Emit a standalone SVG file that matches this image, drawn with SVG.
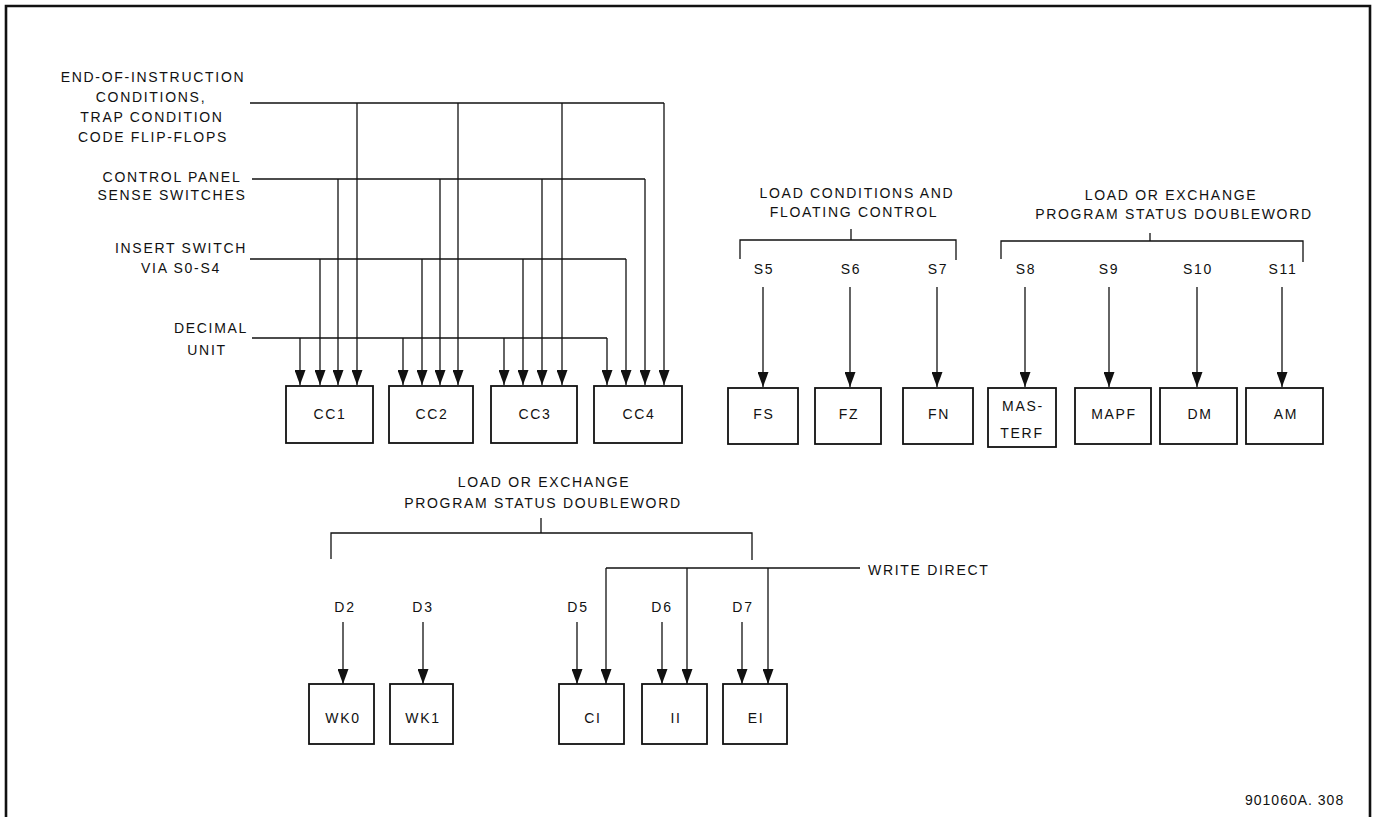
<svg xmlns="http://www.w3.org/2000/svg" width="1377" height="817" viewBox="0 0 1377 817">
<style>
.t{font-family:"Liberation Sans",Arial,sans-serif;font-size:14px;letter-spacing:1.7px;fill:#111;text-anchor:middle}
.ln{fill:none;stroke:#111;stroke-width:1.3}
.bx{fill:#fff;stroke:#111;stroke-width:1.8}
.fr{fill:none;stroke:#111;stroke-width:2.6}
</style>
<defs>
<marker id="ah" markerUnits="userSpaceOnUse" markerWidth="15" markerHeight="11" refX="15" refY="5.5" orient="auto" viewBox="0 0 15 11">
<path d="M0,0 L15,5.5 L0,11 z" fill="#111"/>
</marker>
</defs>
<rect width="1377" height="817" fill="#fff"/>
<path class="fr" d="M6,817 V6 H1370 V817"/>

<g id="labels">
<text class="t" x="153" y="82">END-OF-INSTRUCTION</text>
<text class="t" x="151" y="102">CONDITIONS,</text>
<text class="t" x="152" y="122">TRAP CONDITION</text>
<text class="t" x="153" y="142">CODE FLIP-FLOPS</text>
<text class="t" x="172" y="182">CONTROL PANEL</text>
<text class="t" x="172" y="200">SENSE SWITCHES</text>
<text class="t" x="181" y="253">INSERT SWITCH</text>
<text class="t" x="181" y="273">VIA S0-S4</text>
<text class="t" x="211" y="333">DECIMAL</text>
<text class="t" x="207" y="355">UNIT</text>
<text class="t" x="857" y="198">LOAD CONDITIONS AND</text>
<text class="t" x="854" y="217">FLOATING CONTROL</text>
<text class="t" x="1171" y="200">LOAD OR EXCHANGE</text>
<text class="t" x="1174" y="219">PROGRAM STATUS DOUBLEWORD</text>
<text class="t" x="764" y="274">S5</text>
<text class="t" x="851" y="274">S6</text>
<text class="t" x="938" y="274">S7</text>
<text class="t" x="1026" y="274">S8</text>
<text class="t" x="1109" y="274">S9</text>
<text class="t" x="1198" y="274">S10</text>
<text class="t" x="1283" y="274">S11</text>
<text class="t" x="544" y="487">LOAD OR EXCHANGE</text>
<text class="t" x="543" y="508">PROGRAM STATUS DOUBLEWORD</text>
<text class="t" x="345" y="612">D2</text>
<text class="t" x="423" y="612">D3</text>
<text class="t" x="578" y="612">D5</text>
<text class="t" x="662" y="612">D6</text>
<text class="t" x="743" y="612">D7</text>
<text class="t" x="868" y="575" style="text-anchor:start">WRITE DIRECT</text>
<text class="t" x="1245" y="805" style="text-anchor:start;letter-spacing:1px">901060A. 308</text>
</g>

<g id="connectors">
<path class="ln" d="M250,103 H664"/>
<path class="ln" d="M357,103 V385" marker-end="url(#ah)"/>
<path class="ln" d="M458,103 V385" marker-end="url(#ah)"/>
<path class="ln" d="M562,103 V385" marker-end="url(#ah)"/>
<path class="ln" d="M664,103 V385" marker-end="url(#ah)"/>
<path class="ln" d="M252,179 H645"/>
<path class="ln" d="M338,179 V385" marker-end="url(#ah)"/>
<path class="ln" d="M440,179 V385" marker-end="url(#ah)"/>
<path class="ln" d="M542,179 V385" marker-end="url(#ah)"/>
<path class="ln" d="M645,179 V385" marker-end="url(#ah)"/>
<path class="ln" d="M250,259 H626"/>
<path class="ln" d="M320,259 V385" marker-end="url(#ah)"/>
<path class="ln" d="M422,259 V385" marker-end="url(#ah)"/>
<path class="ln" d="M523,259 V385" marker-end="url(#ah)"/>
<path class="ln" d="M626,259 V385" marker-end="url(#ah)"/>
<path class="ln" d="M252,338 H607"/>
<path class="ln" d="M300,338 V385" marker-end="url(#ah)"/>
<path class="ln" d="M403,338 V385" marker-end="url(#ah)"/>
<path class="ln" d="M504,338 V385" marker-end="url(#ah)"/>
<path class="ln" d="M607,338 V385" marker-end="url(#ah)"/>
<path class="ln" d="M740,259 V240 H956 V260 M851,229 V240"/>
<path class="ln" d="M1001,259 V241 H1303 V262 M1150,233 V241"/>
<path class="ln" d="M331,559 V533 H752 V560 M541,518 V533"/>
<path class="ln" d="M763,287 V387" marker-end="url(#ah)"/>
<path class="ln" d="M850,287 V387" marker-end="url(#ah)"/>
<path class="ln" d="M937,287 V387" marker-end="url(#ah)"/>
<path class="ln" d="M1025,287 V387" marker-end="url(#ah)"/>
<path class="ln" d="M1109,287 V387" marker-end="url(#ah)"/>
<path class="ln" d="M1197,287 V387" marker-end="url(#ah)"/>
<path class="ln" d="M1282,287 V387" marker-end="url(#ah)"/>
<path class="ln" d="M343,622 V684" marker-end="url(#ah)"/>
<path class="ln" d="M423,622 V684" marker-end="url(#ah)"/>
<path class="ln" d="M577,622 V684" marker-end="url(#ah)"/>
<path class="ln" d="M662,622 V684" marker-end="url(#ah)"/>
<path class="ln" d="M742,622 V684" marker-end="url(#ah)"/>
<path class="ln" d="M606,568 H860"/>
<path class="ln" d="M606,568 V684" marker-end="url(#ah)"/>
<path class="ln" d="M687,568 V684" marker-end="url(#ah)"/>
<path class="ln" d="M768,568 V684" marker-end="url(#ah)"/>
</g>

<g id="CC1"><rect class="bx" x="286" y="386" width="87" height="57"/><text class="t" x="330" y="419">CC1</text></g>
<g id="CC2"><rect class="bx" x="389" y="386" width="84" height="57"/><text class="t" x="432" y="419">CC2</text></g>
<g id="CC3"><rect class="bx" x="491" y="386" width="86" height="57"/><text class="t" x="535" y="419">CC3</text></g>
<g id="CC4"><rect class="bx" x="594" y="386" width="88" height="57"/><text class="t" x="639" y="419">CC4</text></g>

<g id="FS"><rect class="bx" x="728" y="388" width="70" height="56"/><text class="t" x="764" y="419">FS</text></g>
<g id="FZ"><rect class="bx" x="815" y="388" width="66" height="56"/><text class="t" x="849" y="419">FZ</text></g>
<g id="FN"><rect class="bx" x="903" y="388" width="70" height="56"/><text class="t" x="939" y="419">FN</text></g>
<g id="MASTERF"><rect class="bx" x="988" y="388" width="68" height="59"/><text class="t" x="1023" y="411">MAS-</text><text class="t" x="1022" y="438">TERF</text></g>
<g id="MAPF"><rect class="bx" x="1075" y="388" width="76" height="56"/><text class="t" x="1114" y="419">MAPF</text></g>
<g id="DM"><rect class="bx" x="1160" y="388" width="77" height="56"/><text class="t" x="1200" y="419">DM</text></g>
<g id="AM"><rect class="bx" x="1246" y="388" width="77" height="56"/><text class="t" x="1286" y="419">AM</text></g>

<g id="WK0"><rect class="bx" x="309" y="684" width="65" height="60"/><text class="t" x="343" y="723">WK0</text></g>
<g id="WK1"><rect class="bx" x="390" y="684" width="63" height="60"/><text class="t" x="423" y="723">WK1</text></g>
<g id="CI"><rect class="bx" x="559" y="684" width="65" height="60"/><text class="t" x="593" y="723">CI</text></g>
<g id="II"><rect class="bx" x="642" y="684" width="65" height="60"/><text class="t" x="676" y="723">II</text></g>
<g id="EI"><rect class="bx" x="723" y="684" width="64" height="60"/><text class="t" x="756" y="723">EI</text></g>
</svg>
